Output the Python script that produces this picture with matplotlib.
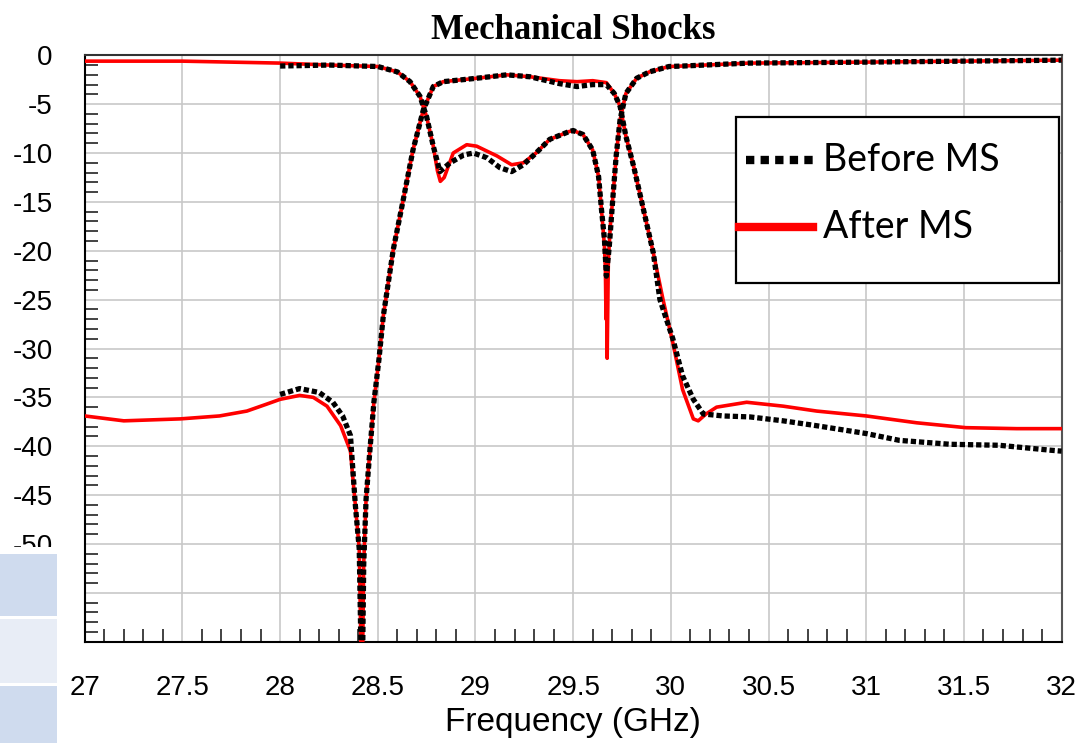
import matplotlib
matplotlib.use("Agg")
import matplotlib.pyplot as plt
from matplotlib.ticker import MultipleLocator
from matplotlib.patches import Rectangle
from matplotlib.lines import Line2D


# ----------------------------------------------------------------------
# values (GHz, dB)
# ----------------------------------------------------------------------

# reflection, after MS (red)
f_s11_after = [27.0, 27.5, 28.0, 28.25, 28.5, 28.6, 28.665, 28.716, 28.75, 28.784,
               28.805, 28.82, 28.84, 28.886, 28.955, 29.006, 29.11, 29.185, 29.245,
               29.31, 29.38, 29.48, 29.5, 29.55, 29.6, 29.63, 29.645, 29.66, 29.665,
               29.668, 29.671, 29.674, 29.677, 29.68, 29.69, 29.705, 29.72, 29.74,
               29.77, 29.825, 29.89, 29.99, 30.06, 30.4, 31.0, 31.5, 32.0]
s11_after = [-0.6, -0.6, -0.8, -1.0, -1.15, -1.7, -2.7, -4.2, -6.3, -9.3,
             -11.8, -12.9, -12.5, -10.0, -9.15, -9.3, -10.3, -11.2, -11.0,
             -10.0, -8.6, -7.8, -7.7, -8.1, -9.7, -12.4, -15.8, -19.5, -22.0,
             -27.0, -23.0, -31.0, -26.0, -21.0, -17.5, -14.1, -10.3, -6.6,
             -3.9, -2.35, -1.7, -1.15, -1.1, -0.8, -0.7, -0.6, -0.5]

# reflection, before MS (black)
f_s11_before = [28.0, 28.25, 28.5, 28.6, 28.665, 28.716, 28.75, 28.784, 28.818, 28.87,
                28.94, 28.99, 29.06, 29.125, 29.185, 29.245, 29.31, 29.38, 29.48, 29.5,
                29.55, 29.6, 29.63, 29.645, 29.66, 29.67, 29.685, 29.705, 29.72, 29.74,
                29.77, 29.825, 29.89, 29.99, 30.06, 30.4, 31.0, 31.5, 32.0]
s11_before = [-1.1, -1.0, -1.15, -1.7, -2.7, -4.2, -6.3, -9.3, -11.9, -11.0,
              -10.2, -10.0, -10.5, -11.5, -11.9, -11.2, -10.0, -8.6, -7.8, -7.7,
              -8.1, -9.7, -12.4, -15.8, -18.8, -22.6, -19.5, -14.1, -10.3, -6.6,
              -3.9, -2.35, -1.7, -1.15, -1.1, -0.8, -0.7, -0.6, -0.5]

# transmission, after MS (red)
f_s21_after = [27.0, 27.2, 27.49, 27.69, 27.83, 27.93, 28.0, 28.1, 28.17, 28.24,
               28.31, 28.36, 28.385, 28.405, 28.415, 28.422, 28.428, 28.44, 28.46,
               28.48, 28.506, 28.528, 28.579, 28.63, 28.68, 28.733, 28.784, 28.835,
               29.006, 29.16, 29.28, 29.43, 29.52, 29.6, 29.67, 29.71, 29.74, 29.77,
               29.81, 29.86, 29.91, 29.96, 30.01, 30.06, 30.115, 30.14, 30.18, 30.234,
               30.388, 30.575, 30.746, 31.0, 31.258, 31.51, 31.77, 32.0]
s21_after = [-36.9, -37.4, -37.2, -36.9, -36.4, -35.7, -35.2, -34.8, -35.0, -35.9,
             -37.9, -40.5, -46.0, -50.5, -62.0, -62.0, -52.0, -45.4, -40.3,
             -35.5, -31.1, -26.7, -19.9, -14.8, -9.7, -5.6, -3.2, -2.7,
             -2.35, -2.0, -2.2, -2.6, -2.7, -2.6, -2.8, -3.9, -5.2, -8.3,
             -11.4, -15.8, -20.2, -25.0, -29.4, -34.2, -37.2, -37.4, -36.7, -36.0,
             -35.5, -35.9, -36.4, -36.9, -37.6, -38.1, -38.2, -38.2]

# transmission, before MS (black)
f_s21_before = [28.0, 28.1, 28.2, 28.27, 28.32, 28.36, 28.385, 28.405, 28.415, 28.422,
                28.428, 28.44, 28.46, 28.48, 28.506, 28.528, 28.579, 28.63, 28.68,
                28.733, 28.784, 28.835, 29.006, 29.16, 29.28, 29.43, 29.52, 29.6,
                29.67, 29.71, 29.74, 29.77, 29.81, 29.86, 29.91, 29.944, 30.01, 30.06,
                30.115, 30.166, 30.268, 30.405, 30.575, 30.746, 31.0, 31.17, 31.43,
                31.68, 31.94, 32.0]
s21_before = [-34.7, -34.1, -34.5, -35.5, -36.9, -38.9, -46.0, -50.5, -62.0, -62.0,
              -52.0, -45.4, -40.3, -35.5, -31.1, -26.7, -19.9, -14.8, -9.7,
              -5.6, -3.2, -2.7, -2.35, -2.0, -2.2, -2.9, -3.2, -3.0,
              -3.0, -3.9, -5.2, -8.3, -11.4, -15.8, -20.2, -25.0, -29.0, -32.8,
              -35.2, -36.7, -36.9, -37.0, -37.4, -37.9, -38.7, -39.4, -39.8,
              -39.9, -40.4, -40.5]

legend_labels = ["Before MS", "After MS"]


# ----------------------------------------------------------------------
# ----------------------------------------------------------------------

plt.rcParams['font.family'] = ['Liberation Sans', 'DejaVu Sans']

fig = plt.figure(figsize=(10.78, 7.43), dpi=100)
ax = fig.add_axes([0.0786, 0.1363, 0.9062, 0.7893])

red = '#ff0000'
dots = (0, (1.0, 0.55))

ax.plot(f_s21_after, s21_after, color=red, lw=2.6, zorder=3)
ax.plot(f_s11_after, s11_after, color=red, lw=2.6, zorder=3)
ax.plot(f_s21_before, s21_before, color='black', lw=3.8, ls=dots,
        dash_capstyle='butt', zorder=4)
ax.plot(f_s11_before, s11_before, color='black', lw=3.8, ls=dots,
        dash_capstyle='butt', zorder=4)

ax.set_xlim(27, 32)
ax.set_ylim(-60, 0)
ax.xaxis.set_major_locator(MultipleLocator(0.5))
ax.xaxis.set_minor_locator(MultipleLocator(0.1))
ax.yaxis.set_major_locator(MultipleLocator(5))
ax.yaxis.set_minor_locator(MultipleLocator(1))
ax.xaxis.set_major_formatter(plt.FuncFormatter(lambda v, p: f"{v:g}"))
ax.yaxis.set_major_formatter(plt.FuncFormatter(lambda v, p: f"{v:g}"))

ax.grid(True, which='major', color='#c8c8c8', lw=1.2, zorder=0)
ax.set_axisbelow(True)
ax.tick_params(which='major', length=0, labelsize=20, pad=23)
ax.tick_params(axis='x', which='major', pad=24)
ax.tick_params(which='minor', direction='in', length=9.5, width=1.2, color='#222222')

for s in ['left', 'bottom']:
    ax.spines[s].set_linewidth(1.5)
    ax.spines[s].set_color('black')
ax.spines['top'].set_linewidth(1.5)
ax.spines['top'].set_color('#333333')
ax.spines['right'].set_linewidth(1.5)
ax.spines['right'].set_color('#555555')

ax.set_xlabel("Frequency (GHz)", fontsize=24, labelpad=4)
ax.set_title("Mechanical Shocks", family=['Liberation Serif', 'DejaVu Serif'],
             fontweight='bold', fontsize=25, pad=12)

# legend box, drawn by hand to keep its odd padding
lx0, ly0, lw_, lh_ = 0.667, 0.612, 0.33, 0.283
ax.add_patch(Rectangle((lx0, ly0), lw_, lh_, transform=ax.transAxes,
                       facecolor='white', edgecolor='black', lw=1.6, zorder=6))
ax.add_line(Line2D([0.6765, 0.746], [0.8215, 0.8215], transform=ax.transAxes,
                   color='black', lw=6, ls=(0, (1.0, 0.75)), dash_capstyle='butt',
                   zorder=7))
ax.add_line(Line2D([0.6695, 0.746], [0.7072, 0.7072], transform=ax.transAxes,
                   color=red, lw=6, zorder=7))
ax.text(0.756, 0.8215, legend_labels[0], transform=ax.transAxes, fontsize=27,
        family=['Lato', 'DejaVu Sans'], va='center', ha='left', zorder=7)
ax.text(0.756, 0.7072, legend_labels[1], transform=ax.transAxes, fontsize=27,
        family=['Lato', 'DejaVu Sans'], va='center', ha='left', zorder=7)

# slide residue on the left: table cells covering the lower tick labels
fig.patches.append(Rectangle((0, 0), 60 / 1078, (743 - 547) / 743,
                             transform=fig.transFigure, facecolor='white',
                             edgecolor='none', zorder=10))
for y0, y1, c in [(554, 616, '#cfdbee'), (619, 683, '#e8edf6'), (686, 743, '#cfdbee')]:
    fig.patches.append(Rectangle((0, 1 - y1 / 743), 57 / 1078, (y1 - y0) / 743,
                                 transform=fig.transFigure, facecolor=c,
                                 edgecolor='none', zorder=11))

fig.savefig("out.png", dpi=100)
